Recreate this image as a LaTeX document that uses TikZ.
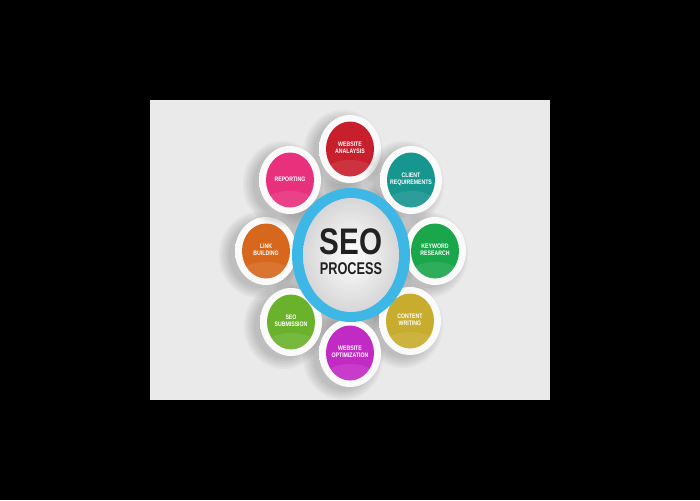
\documentclass[tikz,border=0pt]{standalone}
\usepackage{fontspec}
\setmainfont{Liberation Sans}
\usetikzlibrary{shapes.geometric}
\definecolor{bgc}{HTML}{EAEAEA}
\definecolor{ringblue}{HTML}{3DB7E6}
\definecolor{cred}{HTML}{C81F2D}
\definecolor{cteal}{HTML}{17958F}
\definecolor{cgreen}{HTML}{1AA64A}
\definecolor{colive}{HTML}{C7AC2D}
\definecolor{cmag}{HTML}{C22AC4}
\definecolor{clime}{HTML}{6AB22B}
\definecolor{corange}{HTML}{D7671D}
\definecolor{cpink}{HTML}{E8307D}
\definecolor{seotxt}{HTML}{222222}
\tikzset{
  rimnode/.style={ellipse, minimum width=62pt, minimum height=68pt, inner sep=0pt, inner color=white, outer color=white!98!black},
  bubblenode/.style={ellipse, minimum width=48pt, minimum height=55pt, inner sep=0pt, fill=#1},
  lblnode/.style={text=white, font=\fontsize{6.5}{7}\selectfont\bfseries, inner sep=0pt},
  shadowfill/.style={fill=black, opacity=0.03}
}
\newcommand\mylbl[1]{\scalebox{0.8}[1]{\begin{tabular}{@{}c@{}}#1\end{tabular}}}
\newcommand\bubble[5]{%
  \foreach \k in {0,2,4,6,8,10}{\fill[shadowfill] ({#2-7},{#3+4}) ellipse [x radius={30pt+\k pt}, y radius={33pt+\k pt}];}
  \node[rimnode] (#1rim) at (#2,#3) {};
  \node[bubblenode=#4] (#1) at (#2,#3) {};
  \begin{scope}
    \clip (#2,#3) ellipse [x radius=24pt, y radius=27.5pt];
    \fill[white, opacity=0.09] ({#2},{#3+31}) ellipse [x radius=32pt, y radius=20pt];
  \end{scope}
  \node[lblnode] (#1txt) at (#2,#3) {\mylbl{#5}};
}
\begin{document}
\begin{tikzpicture}[x=1pt,y=-1pt]
\useasboundingbox (0,0) rectangle (700,500);
\fill[black] (0,0) rectangle (700,500);
\fill[bgc] (150,100) rectangle (550,400);
% center shadow
\foreach \k in {0,3,6,9,12,15}{\fill[shadowfill] (342,259) ellipse [x radius={58pt+\k pt}, y radius={66pt+\k pt}];}
% bubbles
\bubble{analysis}{350}{149}{cred}{WEBSITE\\ANALAYSIS}
\bubble{client}{411}{180}{cteal}{CLIENT\\REQUIREMENTS}
\bubble{keyword}{435}{251}{cgreen}{KEYWORD\\RESEARCH}
\bubble{content}{410}{321}{colive}{CONTENT\\WRITING}
\bubble{optim}{350}{353}{cmag}{WEBSITE\\OPTIMIZATION}
\bubble{submit}{291}{322}{clime}{SEO\\SUBMISSION}
\bubble{link}{266}{251}{corange}{LINK\\BUILDING}
\bubble{report}{290}{180}{cpink}{REPORTING}
% center
\node[ellipse, minimum width=118pt, minimum height=134pt, inner sep=0pt, fill=ringblue] (ring) at (351,255) {};
\node[ellipse, minimum width=96pt, minimum height=114pt, inner sep=0pt, inner color=white, outer color=white!84!black] (core) at (351,255) {};
\node[text=seotxt, inner sep=0pt, font=\fontsize{37}{37}\selectfont\bfseries] (seo) at (351,241.5) {\scalebox{0.8}[1]{SEO}};
\node[text=seotxt, inner sep=0pt, font=\fontsize{17}{17}\selectfont\bfseries] (process) at (351,269) {\scalebox{0.75}[1]{PROCESS}};
\end{tikzpicture}
\end{document}
